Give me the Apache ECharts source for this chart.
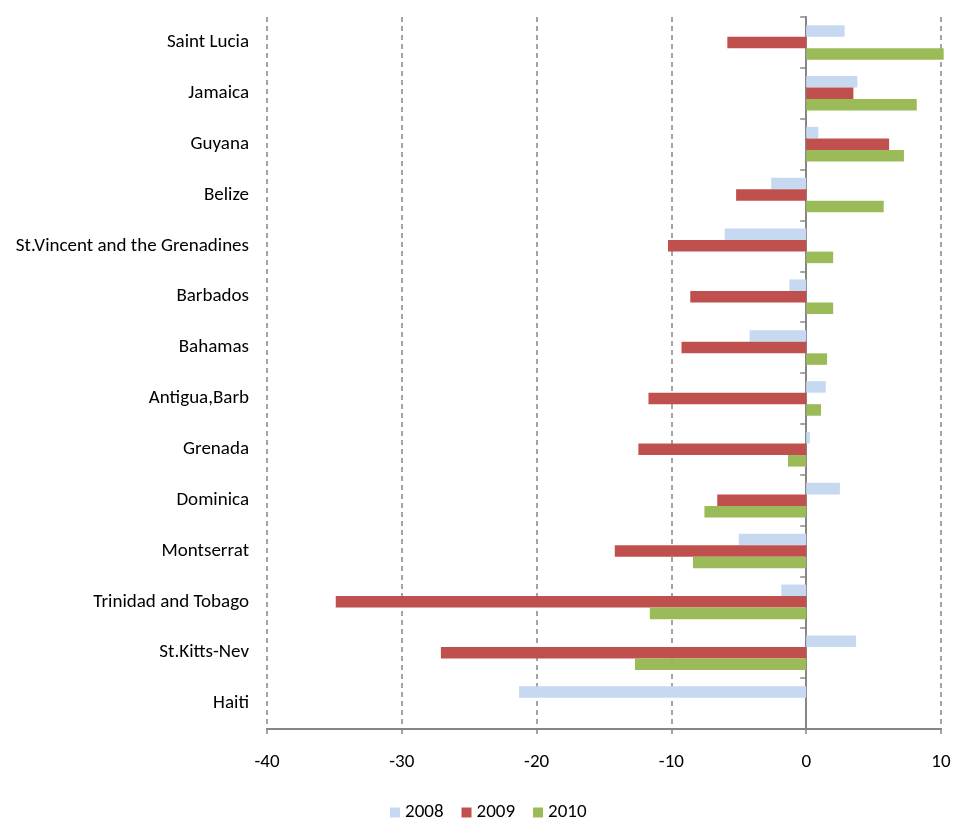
<!DOCTYPE html>
<html>
<head>
<meta charset="utf-8">
<script src="https://cdn.jsdelivr.net/npm/echarts@6/dist/echarts.min.js"></script>
<style>
html,body{margin:0;padding:0;background:#fff;}
#chart{width:956px;height:819px;}
</style>
</head>
<body>
<div id="chart"></div>
<script>
// Categories listed from top to bottom
const categories = ["Saint Lucia","Jamaica","Guyana","Belize","St.Vincent and the Grenadines","Barbados","Bahamas","Antigua,Barb","Grenada","Dominica","Montserrat","Trinidad and Tobago","St.Kitts-Nev","Haiti"];
const values2008 = [2.85, 3.8, 0.9, -2.6, -6.05, -1.25, -4.2, 1.45, 0.27, 2.5, -5.0, -1.85, 3.7, -21.3];
const values2009 = [-5.85, 3.5, 6.15, -5.2, -10.25, -8.6, -9.25, -11.7, -12.45, -6.6, -14.2, -34.9, -27.1, null];
const values2010 = [10.2, 8.2, 7.25, 5.75, 2.0, 2.0, 1.55, 1.1, -1.35, -7.55, -8.4, -11.6, -12.7, null];
const seriesNames = ["2008","2009","2010"];
const xTicks = {min: -40, max: 10, interval: 10};

const font = "Carlito, Calibri, 'Liberation Sans Narrow', 'Open Sans', sans-serif";
const fs = 19;
const chart = echarts.init(document.getElementById('chart'));
const barCommon = {type: 'bar', barGap: '0%', barCategoryGap: '32%', yAxisIndex: 0, clip: false};
chart.setOption({
  animation: false,
  backgroundColor: '#fff',
  textStyle: {fontFamily: font},
  grid: {left: 267, right: 15, top: 17, bottom: 90, containLabel: false},
  legend: {
    top: 798, left: 385,
    data: seriesNames,
    itemWidth: 10, itemHeight: 10, itemGap: 18,
    icon: 'rect',
    textStyle: {fontFamily: font, fontSize: fs, color: '#000'}
  },
  xAxis: {
    type: 'value', min: xTicks.min, max: xTicks.max, interval: xTicks.interval,
    axisLine: {show: true, onZero: false, lineStyle: {color: '#868686', width: 2}},
    axisTick: {show: true, length: 5, lineStyle: {color: '#868686', width: 1.5}},
    axisLabel: {margin: 24, fontSize: fs, color: '#000', fontFamily: font},
    splitLine: {show: true, lineStyle: {color: '#868686', type: [5, 4], width: 1.5}}
  },
  yAxis: [
    {
      type: 'category', inverse: true, data: categories,
      axisLine: {show: false, onZero: false},
      axisTick: {show: false},
      axisLabel: {margin: 18, fontSize: fs, color: '#000', fontFamily: font, padding: [4, 0, 0, 0]}
    },
    {
      type: 'category', inverse: true, data: categories, position: 'left',
      axisLine: {show: true, onZero: true, lineStyle: {color: '#868686', width: 2}},
      axisTick: {show: true, length: 6, lineStyle: {color: '#868686', width: 1.5}},
      axisLabel: {show: false},
      splitLine: {show: false}
    }
  ],
  series: [
    Object.assign({}, barCommon, {name: seriesNames[0], data: values2008, itemStyle: {color: '#C6D9F1'}}),
    Object.assign({}, barCommon, {name: seriesNames[1], data: values2009, itemStyle: {color: '#C0504D'}}),
    Object.assign({}, barCommon, {name: seriesNames[2], data: values2010, itemStyle: {color: '#9BBB59'}})
  ]
});
</script>
</body>
</html>
